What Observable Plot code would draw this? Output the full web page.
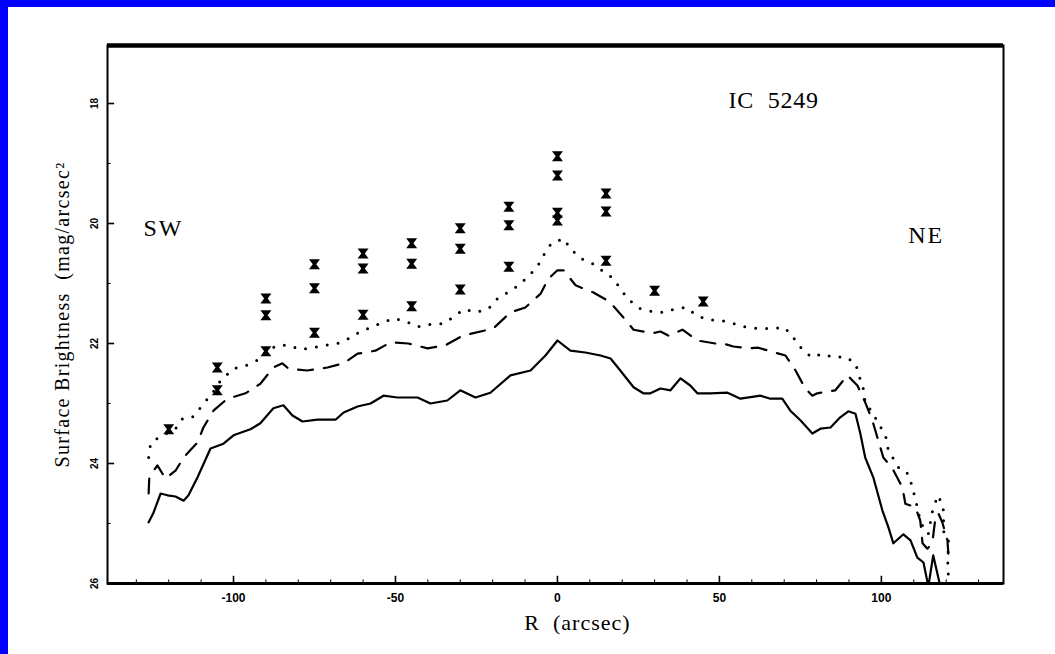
<!DOCTYPE html>
<html><head><meta charset="utf-8">
<script src="https://cdn.jsdelivr.net/npm/d3@7"></script>
<script src="https://cdn.jsdelivr.net/npm/@observablehq/plot@0.6"></script>
<style>
html,body{margin:0;padding:0;background:#fff;}
#wrap{position:relative;width:1055px;height:654px;overflow:hidden;background:#fff;}
#bl{position:absolute;left:0;top:0;width:8px;height:654px;background:#0000ff;}
#bt{position:absolute;left:0;top:0;width:1055px;height:7px;background:#0000ff;}
#chart{position:absolute;left:0;top:0;}
</style></head><body>
<div id="wrap"><div id="chart"></div><div id="bl"></div><div id="bt"></div></div>
<script>
// Solid profile
const solidR = [-126.2,-124.7,-122.5,-120.4,-117.9,-115.4,-113.9,-111.1,-107.1,-103.1,-100,-94.8,-91.7,-87.7,-84.6,-81.8,-78.7,-74.1,-68.5,-66,-61.7,-57.7,-53.7,-49.4,-43.2,-39.2,-34,-30,-25.3,-20.7,-14.5,-8.3,-3.7,0,4,8.6,13.3,16.4,19.4,23.5,26.5,28.7,31.8,34.9,38,41,43.2,47.2,52.5,56.5,62.7,65.7,69.4,71.9,75,78.7,81.2,84.3,87.3,89.8,92,93.5,95,97.5,100.3,102.2,103.7,106.8,109,111.1,113,114.5,116,118.2];
const solidMag = [24.98,24.82,24.5,24.53,24.55,24.62,24.53,24.23,23.75,23.67,23.53,23.43,23.33,23.08,23.03,23.2,23.3,23.27,23.27,23.15,23.05,23.0,22.87,22.9,22.9,23.0,22.95,22.78,22.9,22.82,22.53,22.45,22.2,21.95,22.12,22.15,22.2,22.25,22.45,22.73,22.83,22.83,22.75,22.78,22.58,22.7,22.83,22.83,22.82,22.92,22.87,22.92,22.92,23.12,23.28,23.5,23.42,23.4,23.23,23.13,23.17,23.5,23.9,24.23,24.78,25.07,25.33,25.18,25.28,25.57,25.65,26.05,25.53,26.05];
// Dashed profile
const dashR = [-126.2,-126,-123.5,-121,-117.9,-115.4,-111.1,-109.3,-106.2,-101.9,-96.3,-91.7,-87.7,-84.9,-83,-77.2,-71,-66,-61.7,-56.2,-51.5,-46,-40.1,-34.6,-29.3,-19.8,-14.5,-9.9,-5.2,-2.8,0,1.9,5.6,11.1,16,20.1,23.5,29.3,31.8,34.3,38.6,43.2,48.8,51.2,54.3,59.6,62,65.1,70.4,73.5,76.5,78.7,80.2,85.8,89.5,92.6,95,97.2,98.8,100.6,103.4,106.5,107.4,110.5,112,112.7,114.2,115.7,116.7,117.6,118.8,120.4,120.7];
const dashMag = [24.5,24.23,24.03,24.25,24.12,23.9,23.65,23.4,23.12,22.92,22.83,22.67,22.4,22.33,22.42,22.45,22.4,22.33,22.17,22.12,21.98,22.0,22.08,22.03,21.87,21.75,21.48,21.4,21.17,20.92,20.78,20.78,21.03,21.15,21.3,21.55,21.77,21.83,21.8,21.87,21.77,21.95,22.0,22.0,22.05,22.08,22.07,22.12,22.2,22.45,22.75,22.87,22.83,22.78,22.53,22.7,22.98,23.28,23.57,23.9,24.08,24.4,24.67,24.73,24.95,25.33,25.42,25.33,24.9,24.83,24.98,25.28,25.53];
// Dotted profile
const dotR = [-126.2,-125.6,-123.5,-117.9,-115.7,-112.7,-109.9,-105.9,-104,-100,-96.3,-92.3,-90,-86.4,-83,-79.3,-75.6,-71.6,-67.9,-64.5,-61.4,-57.7,-54,-50.6,-46.9,-43.2,-39.2,-35.5,-32.4,-29,-25,-21.3,-18.5,-15.4,-11.7,-9,-6.2,-4.3,-1.9,1.9,4,7.1,10.8,14.2,17.3,19.8,22.2,25.6,29.6,33,36.4,39.8,42.9,46.3,50.9,54.6,58.3,62,66,70.1,72.8,75.3,78.4,81.8,85.2,88.9,92,93.2,94.4,95,97.5,99.4,101.2,101.9,103.7,105.9,108.3,109.6,111.1,112,113.6,114.5,116,117.6,119.1,119.3,120.7,120.5,120.7];
const dotMag = [23.9,23.67,23.58,23.42,23.25,23.23,23.05,22.78,22.62,22.42,22.37,22.27,22.13,22.03,22.03,22.1,22.07,22.03,22.0,21.92,21.82,21.73,21.65,21.58,21.63,21.72,21.68,21.67,21.57,21.43,21.48,21.42,21.25,21.15,21.02,20.88,20.72,20.53,20.33,20.25,20.42,20.58,20.67,20.8,20.92,21.12,21.28,21.42,21.47,21.48,21.42,21.4,21.53,21.6,21.62,21.67,21.73,21.75,21.75,21.73,21.9,22.08,22.23,22.17,22.23,22.22,22.33,22.55,22.75,22.98,23.17,23.37,23.5,23.73,23.92,24.12,24.17,24.4,24.73,24.95,25.15,25.17,24.73,24.53,24.75,25.2,25.28,25.65,25.9];
// Measured points with error bars
const pointR = [-120,-105,-105,-90,-90,-90,-75,-75,-75,-60,-60,-60,-45,-45,-45,-30,-30,-30,-15,-15,-15,0,0,0,0,15,15,15,30,45];
const pointMag = [23.43,22.4,22.78,21.25,21.53,22.13,20.68,21.08,21.82,20.5,20.75,21.52,20.33,20.67,21.38,20.08,20.42,21.1,19.72,20.03,20.72,18.88,19.2,19.82,19.95,19.5,19.8,20.62,21.12,21.3];
// Axes
const xDomain = [-138.9, 137.7];
const yDomain = [17.033, 26];
const xTicks = [-100, -50, 0, 50, 100];
const xMinor = [-130,-120,-110,-90,-80,-70,-60,-40,-30,-20,-10,10,20,30,40,60,70,80,90,110,120,130];
const yTicks = [18, 20, 22, 24, 26];
const yMinor = [19, 21, 23, 25];
const labels = ["IC  5249", "SW", "NE"];
const labelR = [52.8, -127.8, 108.3];
const labelMag = [17.95, 20.08, 20.2];

const toRows = (xs, ys) => xs.map((r, i) => ({r, mag: ys[i]}));
const solid = toRows(solidR, solidMag);
const dashed = toRows(dashR, dashMag);
const dotted = toRows(dotR, dotMag);
const points = toRows(pointR, pointMag);
const notes = labels.map((t, i) => ({t, r: labelR[i], mag: labelMag[i]}));

const hourglass = {
  draw(ctx, size) {
    const s = Math.sqrt(size / Math.PI);
    ctx.moveTo(-s * 1.1, -s); ctx.lineTo(s * 1.1, -s); ctx.lineTo(s * 0.35, 0);
    ctx.lineTo(s * 1.1, s); ctx.lineTo(-s * 1.1, s); ctx.lineTo(-s * 0.35, 0); ctx.closePath();
  }
};

const serif = "'Liberation Serif', 'DejaVu Serif', serif";
const sans = "'Liberation Sans', Arial, sans-serif";
// tick lengths expressed in axis units
const xTickLen = 0.12, xMinorLen = 0.06, yTickLen = 2.2, yMinorLen = 1.1;

const chart = Plot.plot({
  width: 1055, height: 654,
  marginLeft: 107, marginRight: 52, marginTop: 45, marginBottom: 71,
  x: {domain: xDomain, axis: null},
  y: {domain: yDomain, reverse: true, axis: null},
  style: {background: "transparent", color: "black"},
  marks: [
    Plot.ruleX(xTicks, {x: d => d, y1: yDomain[1], y2: yDomain[1] - xTickLen, stroke: "black", strokeWidth: 1.6}),
    Plot.ruleX(xMinor, {x: d => d, y1: yDomain[1], y2: yDomain[1] - xMinorLen, stroke: "black", strokeWidth: 1}),
    Plot.ruleY(yTicks, {y: d => d, x1: xDomain[0], x2: xDomain[0] + yTickLen, stroke: "black", strokeWidth: 1.6}),
    Plot.ruleY(yMinor, {y: d => d, x1: xDomain[0], x2: xDomain[0] + yMinorLen, stroke: "black", strokeWidth: 1}),
    Plot.axisX({ticks: xTicks, anchor: "bottom", label: null, tickSize: 0, tickPadding: 10, fontSize: 12, fontWeight: "bold", fontFamily: sans, tickFormat: d => d < 0 ? "-" + Math.abs(d) : String(d)}),
    Plot.text(yTicks, {y: d => d, frameAnchor: "left", textAnchor: "middle", dx: -13, rotate: -90, text: d => String(d), fontSize: 10, fontWeight: "bold", fontFamily: sans}),
    Plot.frame({stroke: "black", strokeWidth: 2}),
    Plot.ruleY([yDomain[0]], {stroke: "black", strokeWidth: 4.5}),
    Plot.ruleY([yDomain[1]], {stroke: "black", strokeWidth: 3}),
    Plot.line(solid, {x: "r", y: "mag", stroke: "black", strokeWidth: 2.2, clip: true}),
    Plot.line(dashed, {x: "r", y: "mag", stroke: "black", strokeWidth: 2.2, strokeDasharray: "15,11", clip: true}),
    Plot.line(dotted, {x: "r", y: "mag", stroke: "black", strokeWidth: 3, strokeLinecap: "round", strokeDasharray: "0,11", clip: true}),
    Plot.dot(points, {x: "r", y: "mag", symbol: hourglass, r: 5, fill: "black", stroke: "none"}),
    Plot.text(notes, {x: "r", y: "mag", text: "t", textAnchor: "start", fontSize: 24, fontFamily: serif, fill: "black"}),
    Plot.text(["Surface Brightness  (mag/arcsec\u00B2"], {frameAnchor: "left", textAnchor: "middle", dx: -45, rotate: -90, fontSize: 20, fontFamily: serif, fill: "black", text: d => d}),
    Plot.text(["R  (arcsec)"], {frameAnchor: "bottom", textAnchor: "middle", dx: 22, dy: 46, fontSize: 22, fontFamily: serif, fill: "black", text: d => d})
  ]
});
document.getElementById("chart").appendChild(chart);
// letter spacing for the serif annotations, like the scanned original
d3.select(chart).selectAll("text").each(function () {
  const t = this.textContent;
  if (t.startsWith("Surface")) this.setAttribute("letter-spacing", "1.3");
  else if (t.startsWith("R ")) this.setAttribute("letter-spacing", "1");
  else if (t === "SW" || t === "NE") this.setAttribute("letter-spacing", "2");
  else if (t.startsWith("IC")) this.setAttribute("letter-spacing", "0.8");
});
</script>
</body></html>
